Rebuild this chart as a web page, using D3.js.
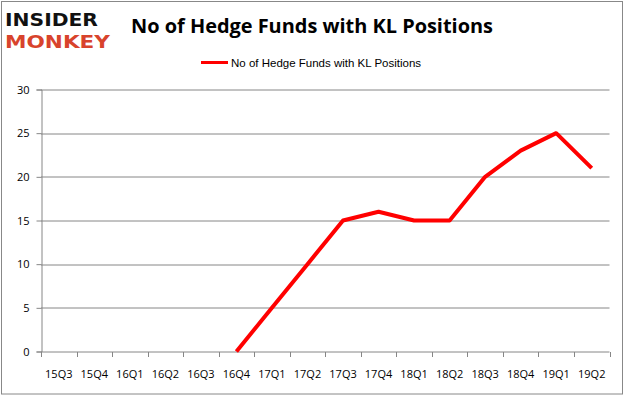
<!DOCTYPE html>
<html>
<head>
<meta charset="utf-8">
<script src="https://cdn.jsdelivr.net/npm/d3@7"></script>
<style>
  body { margin: 0; background: #fff; }
  svg { display: block; font-family: "Liberation Sans", Arial, sans-serif; }
</style>
</head>
<body>
<div id="chart"></div>
<script>
// data
const quarters = ["15Q3", "15Q4", "16Q1", "16Q2", "16Q3", "16Q4", "17Q1", "17Q2",
  "17Q3", "17Q4", "18Q1", "18Q2", "18Q3", "18Q4", "19Q1", "19Q2"];
const fundCounts = [null, null, null, null, null, 0, 5, 10, 15, 16, 15, 15, 20, 23, 25, 21];
const yTicks = [0, 5, 10, 15, 20, 25, 30];
const seriesName = "No of Hedge Funds with KL Positions";
const chartTitle = "No of Hedge Funds with KL Positions";

const W = 626, H = 397;
const margin = { top: 89.5, right: 16.5, bottom: 45.5, left: 41 };

let svg = d3.select("#chart").append("svg")
  .attr("width", W)
  .attr("height", H);

// outer frame
svg.append("rect")
  .attr("x", 1.5).attr("y", 1.5)
  .attr("width", 621).attr("height", 392.5)
  .attr("fill", "#fff")
  .attr("stroke", "#888").attr("stroke-width", 1);

// logo
let logo = svg.append("g").attr("font-family", "'DejaVu Sans', sans-serif")
  .attr("font-weight", "bold");
logo.append("text").attr("x", 5).attr("y", 26)
  .attr("font-size", 18).attr("fill", "#111")
  .attr("textLength", 93).attr("lengthAdjust", "spacingAndGlyphs")
  .text("INSIDER");
logo.append("text").attr("x", 5).attr("y", 48)
  .attr("font-size", 18).attr("fill", "#d8432c")
  .attr("textLength", 105).attr("lengthAdjust", "spacingAndGlyphs")
  .text("MONKEY");

// title
svg.append("text")
  .attr("x", 312).attr("y", 33)
  .attr("text-anchor", "middle")
  .attr("font-size", 20).attr("font-weight", "bold")
  .attr("font-family", "'Open Sans', 'Liberation Sans', sans-serif")
  .attr("textLength", 362).attr("lengthAdjust", "spacingAndGlyphs")
  .text(chartTitle);

// legend
svg.append("line")
  .attr("x1", 201).attr("x2", 228)
  .attr("y1", 62.5).attr("y2", 62.5)
  .attr("stroke", "#ff0000").attr("stroke-width", 3);
svg.append("text")
  .attr("x", 231).attr("y", 66.5)
  .attr("font-size", 11.5).attr("fill", "#000")
  .text(seriesName);

let width = W - margin.left - margin.right;
let height = H - margin.top - margin.bottom;

let g = svg.append("g")
  .attr("transform", "translate(" + margin.left + "," + margin.top + ")");

let xScale = d3.scaleBand().domain(quarters).range([0, width]);
let yScale = d3.scaleLinear().domain([0, 30]).range([height, 0]);

// gridlines
g.append("g").selectAll("line")
  .data(yTicks.filter(d => d > 0))
  .enter().append("line")
  .attr("x1", 0).attr("x2", width)
  .attr("y1", d => Math.round(yScale(d)) + 0.5)
  .attr("y2", d => Math.round(yScale(d)) + 0.5)
  .attr("stroke", "#868686");

// y axis
let yAxis = g.append("g")
  .attr("transform", "translate(0.5,0)")
  .call(d3.axisLeft(yScale).tickValues(yTicks).tickSize(5).tickPadding(7));
yAxis.select(".domain").attr("stroke", "#868686");
yAxis.selectAll(".tick line").attr("stroke", "#868686");
yAxis.selectAll(".tick text")
  .attr("font-size", 11).attr("fill", "#000")
  .attr("font-family", "'Open Sans', 'Liberation Sans', sans-serif");

// x axis with ticks between categories
let xAxis = g.append("g")
  .attr("transform", "translate(0," + (height + 0.5) + ")");
xAxis.append("line")
  .attr("x1", 0).attr("x2", width)
  .attr("stroke", "#868686");
xAxis.selectAll(".xtick")
  .data(quarters.concat(["end"]))
  .enter().append("line")
  .attr("x1", (d, i) => Math.round(i < quarters.length ? xScale(d) : width) + 0.5)
  .attr("x2", (d, i) => Math.round(i < quarters.length ? xScale(d) : width) + 0.5)
  .attr("y1", 0).attr("y2", 5)
  .attr("stroke", "#868686");
xAxis.selectAll(".xlabel")
  .data(quarters)
  .enter().append("text")
  .attr("x", d => xScale(d) + xScale.bandwidth() / 2)
  .attr("y", 26)
  .attr("text-anchor", "middle")
  .attr("font-size", 11).attr("fill", "#000")
  .attr("font-family", "'Open Sans', 'Liberation Sans', sans-serif")
  .text(d => d);

// series line
let line = d3.line()
  .defined(d => d.v !== null)
  .x(d => xScale(d.q) + xScale.bandwidth() / 2)
  .y(d => yScale(d.v));

g.append("path")
  .datum(quarters.map((q, i) => ({ q: q, v: fundCounts[i] })))
  .attr("fill", "none")
  .attr("stroke", "#ff0000")
  .attr("stroke-width", 4)
  .attr("stroke-linejoin", "round")
  .attr("d", line);
</script>
</body>
</html>
